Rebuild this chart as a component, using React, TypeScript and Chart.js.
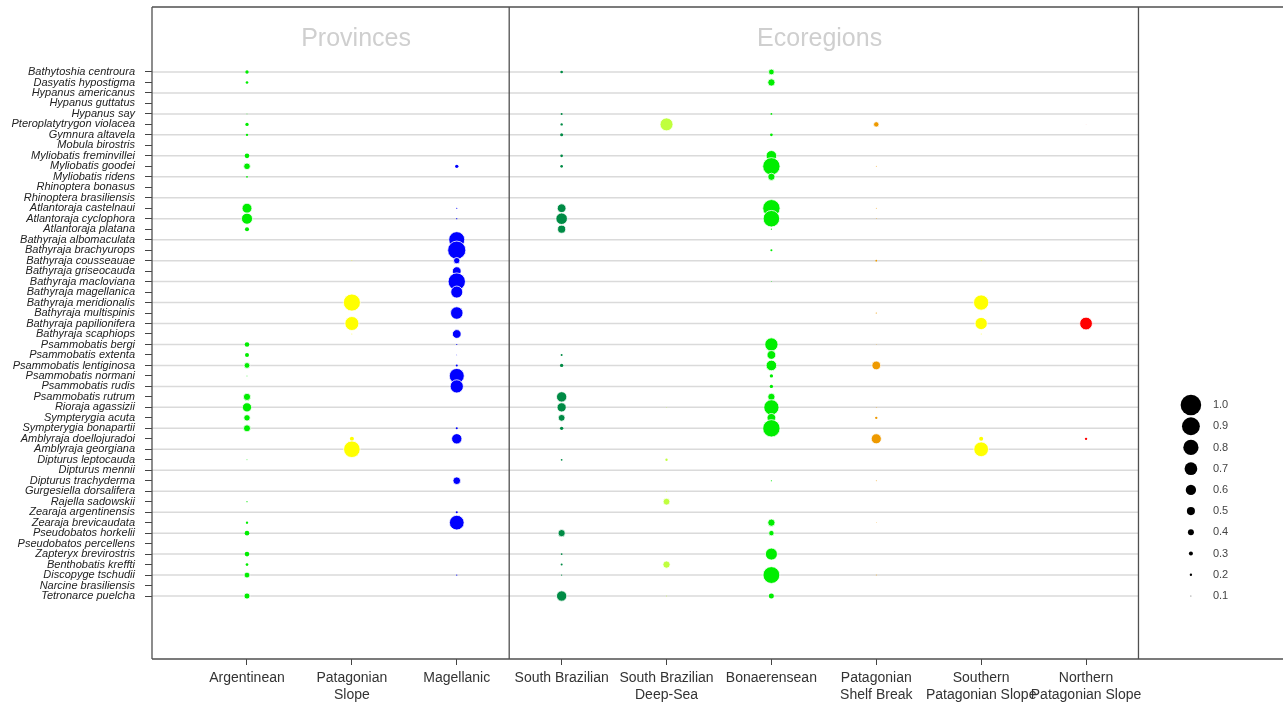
import React, { useEffect, useRef } from "react";
import { Chart, registerables } from "chart.js";

Chart.register(...registerables);

const species = [
  "Bathytoshia centroura", "Dasyatis hypostigma", "Hypanus americanus", "Hypanus guttatus",
  "Hypanus say", "Pteroplatytrygon violacea", "Gymnura altavela", "Mobula birostris",
  "Myliobatis freminvillei", "Myliobatis goodei", "Myliobatis ridens", "Rhinoptera bonasus",
  "Rhinoptera brasiliensis", "Atlantoraja castelnaui", "Atlantoraja cyclophora", "Atlantoraja platana",
  "Bathyraja albomaculata", "Bathyraja brachyurops", "Bathyraja cousseauae", "Bathyraja griseocauda",
  "Bathyraja macloviana", "Bathyraja magellanica", "Bathyraja meridionalis", "Bathyraja multispinis",
  "Bathyraja papilionifera", "Bathyraja scaphiops", "Psammobatis bergi", "Psammobatis extenta",
  "Psammobatis lentiginosa", "Psammobatis normani", "Psammobatis rudis", "Psammobatis rutrum",
  "Rioraja agassizii", "Sympterygia acuta", "Sympterygia bonapartii", "Amblyraja doellojuradoi",
  "Amblyraja georgiana", "Dipturus leptocauda", "Dipturus mennii", "Dipturus trachyderma",
  "Gurgesiella dorsalifera", "Rajella sadowskii", "Zearaja argentinensis", "Zearaja brevicaudata",
  "Pseudobatos horkelii", "Pseudobatos percellens", "Zapteryx brevirostris", "Benthobatis kreffti",
  "Discopyge tschudii", "Narcine brasiliensis", "Tetronarce puelcha",
];

const regionLabels = [
  ["Argentinean"], ["Patagonian", "Slope"], ["Magellanic"],
  ["South Brazilian"], ["South Brazilian", "Deep-Sea"], ["Bonaerensean"],
  ["Patagonian", "Shelf Break"], ["Southern", "Patagonian Slope"], ["Northern", "Patagonian Slope"],
];

const groupTitles = ["Provinces", "Ecoregions"];

// values per species (same order as species)
const argentinean = [
  0.26, 0.22, 0, 0, 0.1, 0.26, 0.2, 0, 0.33, 0.43,
  0.16, 0, 0, 0.58, 0.63, 0.3, 0, 0, 0, 0,
  0, 0, 0, 0, 0, 0, 0.33, 0.3, 0.39, 0.1,
  0, 0.46, 0.55, 0.42, 0.45, 0, 0, 0.1, 0, 0,
  0, 0.12, 0, 0.2, 0.33, 0, 0.33, 0.22, 0.39, 0,
  0.4,
];
const patagonianSlope = [
  0, 0, 0, 0, 0, 0, 0, 0, 0, 0,
  0, 0, 0, 0, 0, 0, 0, 0, 0.1, 0,
  0, 0, 0.87, 0, 0.75, 0.1, 0, 0, 0, 0,
  0, 0, 0, 0, 0, 0.3, 0.85, 0, 0, 0,
  0, 0, 0, 0, 0, 0, 0, 0, 0, 0,
  0,
];
const magellanic = [
  0, 0, 0, 0, 0, 0, 0, 0, 0, 0.26,
  0, 0, 0, 0.12, 0.12, 0, 0.83, 0.91, 0.42, 0.53,
  0.88, 0.67, 0, 0.69, 0, 0.53, 0.12, 0.08, 0.18, 0.79,
  0.72, 0, 0, 0, 0.18, 0.6, 0, 0, 0, 0.48,
  0, 0, 0.18, 0.78, 0, 0, 0, 0, 0.12, 0,
  0,
];
const southBrazilian = [
  0.22, 0, 0, 0, 0.18, 0.2, 0.24, 0, 0.22, 0.22,
  0, 0, 0, 0.53, 0.65, 0.5, 0, 0, 0, 0,
  0, 0, 0, 0, 0, 0, 0, 0.18, 0.26, 0,
  0, 0.6, 0.55, 0.44, 0.26, 0, 0, 0.16, 0, 0,
  0, 0, 0, 0, 0.46, 0, 0.16, 0.18, 0.12, 0,
  0.6,
];
const southBrazilianDeepSea = [
  0, 0, 0, 0, 0, 0.71, 0, 0, 0, 0,
  0, 0, 0, 0, 0, 0, 0, 0, 0, 0,
  0, 0, 0, 0, 0, 0, 0, 0, 0, 0,
  0, 0, 0.08, 0, 0, 0, 0, 0.2, 0, 0,
  0.1, 0.44, 0, 0, 0, 0, 0, 0.46, 0, 0,
  0.1,
];
const bonaerensean = [
  0.39, 0.46, 0, 0, 0.16, 0, 0.22, 0, 0.61, 0.88,
  0.46, 0, 0, 0.88, 0.85, 0.12, 0, 0.18, 0, 0,
  0.1, 0, 0, 0, 0, 0, 0.72, 0.53, 0.61, 0.26,
  0.26, 0.46, 0.8, 0.53, 0.88, 0, 0, 0, 0, 0.12,
  0, 0, 0, 0.46, 0.37, 0, 0.67, 0, 0.86, 0,
  0.35,
];
const patagonianShelfBreak = [
  0, 0, 0, 0, 0, 0.37, 0, 0, 0, 0.1,
  0, 0, 0, 0.1, 0.08, 0, 0, 0, 0.16, 0,
  0, 0, 0, 0.12, 0, 0, 0.08, 0, 0.53, 0,
  0, 0, 0.08, 0.2, 0, 0.59, 0, 0, 0, 0.1,
  0, 0, 0, 0.07, 0, 0, 0, 0, 0.1, 0,
  0,
];
const southernPatagonianSlope = [
  0, 0, 0, 0, 0, 0, 0, 0, 0, 0,
  0, 0, 0, 0, 0, 0, 0, 0, 0.08, 0,
  0, 0, 0.8, 0, 0.68, 0.1, 0, 0, 0, 0,
  0, 0, 0, 0, 0, 0.3, 0.78, 0, 0, 0,
  0, 0, 0, 0, 0, 0, 0, 0, 0, 0,
  0,
];
const northernPatagonianSlope = [
  0, 0, 0, 0, 0, 0.06, 0, 0, 0, 0,
  0, 0, 0, 0, 0, 0, 0, 0, 0, 0,
  0, 0, 0, 0, 0.7, 0, 0, 0, 0, 0,
  0, 0, 0, 0, 0, 0.2, 0, 0, 0, 0,
  0, 0, 0, 0, 0, 0, 0, 0, 0, 0,
  0,
];

const legendValues = [1.0, 0.9, 0.8, 0.7, 0.6, 0.5, 0.4, 0.3, 0.2, 0.1];
const legendLabels = ["1.0", "0.9", "0.8", "0.7", "0.6", "0.5", "0.4", "0.3", "0.2", "0.1"];

const series = [
  argentinean, patagonianSlope, magellanic, southBrazilian, southBrazilianDeepSea,
  bonaerensean, patagonianShelfBreak, southernPatagonianSlope, northernPatagonianSlope,
];
const colors = [
  "#00ee00", "#ffff00", "#0000ff", "#008b45", "#c0ff3e",
  "#00ee00", "#ee9a00", "#ffff00", "#ff0000",
];

const FONT = '"Liberation Sans", Arial, Helvetica, sans-serif';
const X_MIN = -0.9058;
const X_MAX = 9.878;
const Y_MIN = -6.2;
const Y_MAX = 56.01;
const LEGEND_X = 9;
const LEGEND_Y0 = 31.78;
const LEGEND_STEP = 2.024;

const sizeOf = (v: number) => (v > 0 ? 10.3 * Math.pow(v, 1.35) : 0);

export default function App() {
  const ref = useRef<HTMLCanvasElement | null>(null);

  useEffect(() => {
    if (!ref.current) return;

    const datasets: any[] = series.map((vals, ci) => ({
      label: regionLabels[ci].join(" "),
      data: vals
        .map((v, ri) => ({ x: ci, y: ri, v }))
        .filter((d) => d.v > 0),
      backgroundColor: colors[ci],
      borderColor: "#ffffff",
      borderWidth: (ctx: any) => (sizeOf(ctx.raw ? ctx.raw.v : 0) > 2.5 ? 0.8 : 0),
      radius: (ctx: any) => sizeOf(ctx.raw ? ctx.raw.v : 0),
      hoverRadius: 0,
    }));

    datasets.push({
      label: "legend",
      data: legendValues.map((v, k) => ({ x: LEGEND_X, y: LEGEND_Y0 + LEGEND_STEP * k, v })),
      backgroundColor: "#000000",
      borderWidth: 0,
      radius: (ctx: any) => sizeOf(ctx.raw ? ctx.raw.v : 0),
      hoverRadius: 0,
      clip: false,
    });

    const decorations = {
      id: "decorations",
      beforeDatasetsDraw(chart: any) {
        const { ctx, chartArea, scales } = chart;
        const xs = scales.x;
        const ys = scales.y;
        const xEnd = xs.getPixelForValue(8.5);
        ctx.save();
        ctx.strokeStyle = "#dadada";
        ctx.lineWidth = 1.5;
        species.forEach((_, i) => {
          if (i % 2 !== 0) return;
          const y = ys.getPixelForValue(i);
          ctx.beginPath();
          ctx.moveTo(chartArea.left, y);
          ctx.lineTo(xEnd, y);
          ctx.stroke();
        });
        // group titles
        ctx.fillStyle = "#cfcfcf";
        ctx.font = `25px ${FONT}`;
        ctx.textAlign = "center";
        ctx.textBaseline = "middle";
        ctx.fillText(groupTitles[0], xs.getPixelForValue(1.04), 39);
        ctx.fillText(groupTitles[1], xs.getPixelForValue(5.46), 39);
        ctx.restore();
      },
      afterDatasetsDraw(chart: any) {
        const { ctx, chartArea, scales } = chart;
        const xs = scales.x;
        const ys = scales.y;
        ctx.save();
        ctx.strokeStyle = "#505050";
        ctx.lineWidth = 1.3;
        const { left, top, bottom, right } = chartArea;
        ctx.beginPath();
        ctx.moveTo(left, top);
        ctx.lineTo(right + 2, top);
        ctx.moveTo(left, bottom);
        ctx.lineTo(right + 2, bottom);
        ctx.moveTo(left, top);
        ctx.lineTo(left, bottom);
        [2.5, 8.5].forEach((v) => {
          const x = xs.getPixelForValue(v);
          ctx.moveTo(x, top);
          ctx.lineTo(x, bottom);
        });
        ctx.stroke();
        // legend labels
        ctx.fillStyle = "#444444";
        ctx.font = `11px ${FONT}`;
        ctx.textAlign = "left";
        ctx.textBaseline = "middle";
        legendLabels.forEach((t, k) => {
          ctx.fillText(t, xs.getPixelForValue(9.21), ys.getPixelForValue(LEGEND_Y0 + LEGEND_STEP * k));
        });
        ctx.restore();
      },
    };

    const zeroPad = (s: any) => {
      s.paddingTop = 0;
      s.paddingBottom = 0;
      s.paddingLeft = 0;
      s.paddingRight = 0;
    };

    const chart = new Chart(ref.current, {
      type: "bubble",
      data: { datasets },
      options: {
        animation: false,
        responsive: false,
        devicePixelRatio: 1,
        layout: { autoPadding: false, padding: { top: 7, left: 0, right: 0, bottom: 0 } },
        plugins: { legend: { display: false }, tooltip: { enabled: false } },
        events: [],
        scales: {
          x: {
            type: "linear",
            min: X_MIN,
            max: X_MAX,
            afterBuildTicks: (s: any) => {
              s.ticks = regionLabels.map((_, i) => ({ value: i }));
            },
            afterFit: (s: any) => {
              s.height = 47;
              zeroPad(s);
            },
            ticks: {
              autoSkip: false,
              maxRotation: 0,
              minRotation: 0,
              padding: 4,
              color: "#333333",
              font: { family: FONT, size: 14, lineHeight: 1.25 },
              callback: (v: any) => regionLabels[v] || "",
            },
            grid: { drawOnChartArea: false, drawTicks: true, tickLength: 6, tickColor: "#444444" },
            border: { display: false },
          },
          y: {
            type: "linear",
            reverse: true,
            min: Y_MIN,
            max: Y_MAX,
            afterBuildTicks: (s: any) => {
              s.ticks = species.map((_, i) => ({ value: i }));
            },
            afterFit: (s: any) => {
              s.width = 152;
              zeroPad(s);
            },
            ticks: {
              autoSkip: false,
              padding: 10,
              color: "#222222",
              font: { family: FONT, size: 11, style: "italic" },
              callback: (v: any) => species[v] || "",
            },
            grid: { drawOnChartArea: false, drawTicks: true, tickLength: 7, tickColor: "#444444" },
            border: { display: false },
          },
        },
      },
      plugins: [decorations],
    } as any);

    return () => chart.destroy();
  }, []);

  return (
    <div style={{ position: "absolute", left: 0, top: 0, width: 1283, height: 706, background: "#ffffff" }}>
      <canvas ref={ref} width={1283} height={706} style={{ display: "block" }} />
    </div>
  );
}
